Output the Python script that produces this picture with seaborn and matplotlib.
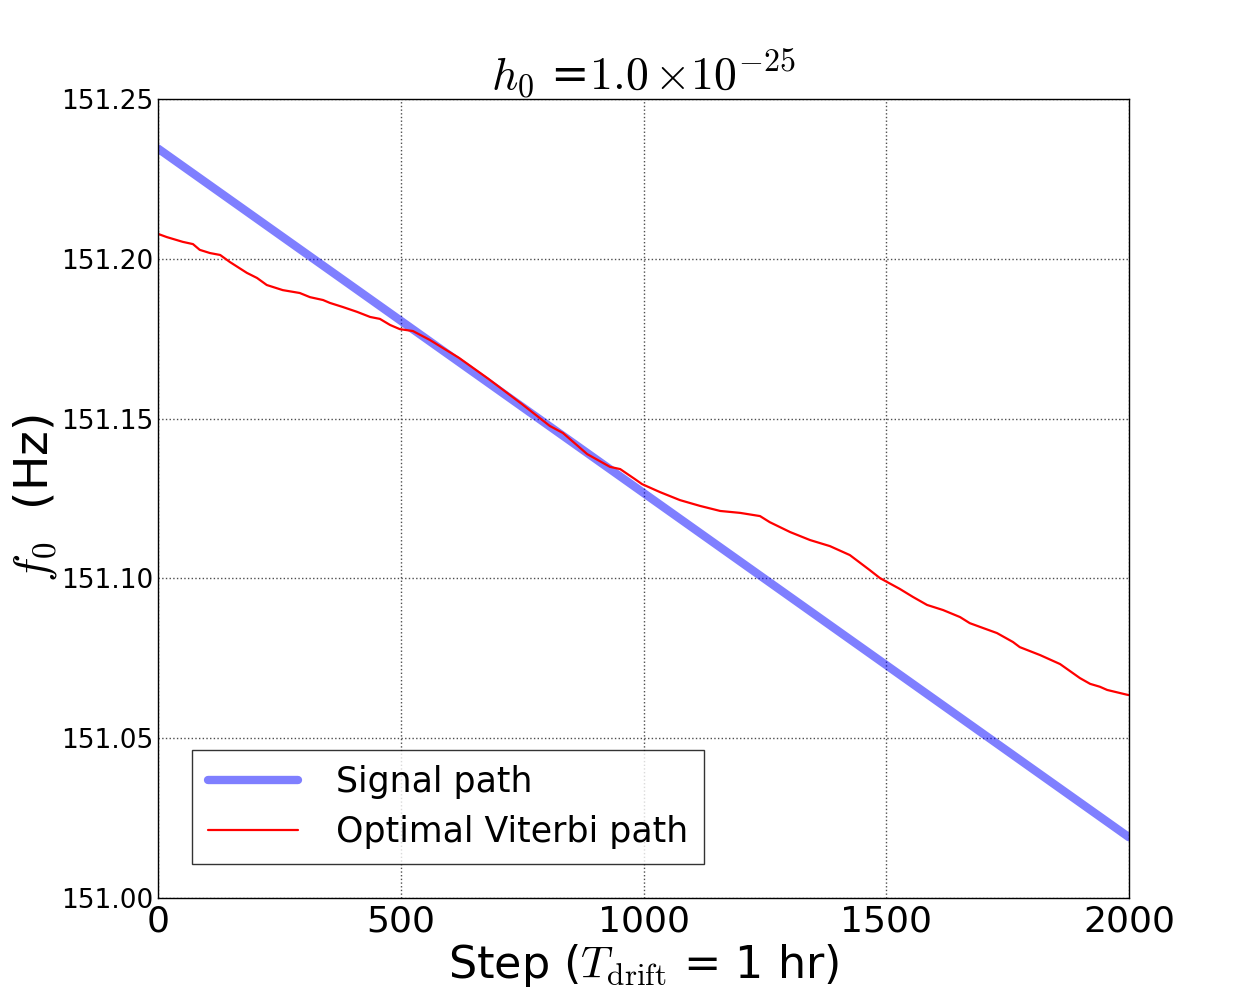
import numpy as np
import pandas as pd
import seaborn as sns
import matplotlib.pyplot as plt
from matplotlib.ticker import FormatStrFormatter

# signal path (straight line) end points
signal_step = [0, 2000]
signal_f0 = [151.2345, 151.0190]

# optimal Viterbi path
viterbi_step = [0, 18, 51, 72, 86, 107, 128, 148, 183, 204, 224, 257, 292, 313,
                340, 354, 381, 410, 437, 457, 478, 498, 525, 560, 620, 680, 750,
                807, 834, 884, 931, 952, 982, 997, 1034, 1075, 1116, 1158, 1199,
                1240, 1260, 1302, 1343, 1384, 1425, 1466, 1487, 1528, 1555, 1584,
                1617, 1652, 1672, 1699, 1728, 1761, 1775, 1817, 1858, 1899, 1920,
                1940, 1955, 1996, 2000]
viterbi_f0 = [151.2078, 151.2068, 151.2053, 151.2046, 151.2028, 151.2018,
              151.2012, 151.1990, 151.1956, 151.1940, 151.1918, 151.1902,
              151.1893, 151.1880, 151.1871, 151.1862, 151.1849, 151.1834,
              151.1818, 151.1812, 151.1793, 151.1780, 151.1774, 151.1746,
              151.1690, 151.1625, 151.1545, 151.1477, 151.1455, 151.1389,
              151.1349, 151.1342, 151.1311, 151.1295, 151.1270, 151.1245,
              151.1227, 151.1211, 151.1205, 151.1195, 151.1176, 151.1145,
              151.1120, 151.1101, 151.1073, 151.1026, 151.1001, 151.0967,
              151.0942, 151.0917, 151.0901, 151.0879, 151.0860, 151.0845,
              151.0829, 151.0801, 151.0785, 151.0760, 151.0732, 151.0688,
              151.0670, 151.0661, 151.0651, 151.0636, 151.0635]

sns.set_style("white", {"axes.grid": True, "grid.linestyle": ":",
                        "grid.color": "0.3", "axes.edgecolor": "black",
                        "xtick.direction": "in", "ytick.direction": "in",
                        "text.color": "black", "axes.labelcolor": "black",
                        "xtick.color": "black", "ytick.color": "black"})
plt.rcParams["font.family"] = ["DejaVu Sans"]
plt.rcParams["mathtext.fontset"] = "cm"

fig = plt.figure(figsize=(12.55, 9.99), dpi=100)
ax = fig.add_axes([0.1259, 0.1011, 0.7737, 0.7998])

sig = pd.DataFrame({"step": signal_step, "f0": signal_f0})
vit = pd.DataFrame({"step": viterbi_step, "f0": viterbi_f0})

sns.lineplot(data=sig, x="step", y="f0", ax=ax, color="blue", alpha=0.5,
             linewidth=6, label="Signal path")
sns.lineplot(data=vit, x="step", y="f0", ax=ax, color="red", linewidth=1.6,
             label="Optimal Viterbi path", sort=False)

ax.set_xlim(0, 2000)
ax.set_ylim(151.0, 151.25)
ax.set_xticks([0, 500, 1000, 1500, 2000])
ax.set_yticks([151.00, 151.05, 151.10, 151.15, 151.20, 151.25])
ax.yaxis.set_major_formatter(FormatStrFormatter("%.2f"))
ax.tick_params(axis="x", labelsize=26, pad=5)
ax.tick_params(axis="y", labelsize=19, pad=3)
for s in ax.spines.values():
    s.set_linewidth(1.0)
ax.grid(True, linestyle=":", color="0.3", linewidth=1)

ax.set_title(r"$h_0$ =$1.0\,{\times}10^{-25}$", fontsize=33, pad=7)
ax.set_xlabel(r"Step ($T_{\rm drift}$ = 1 hr)", fontsize=32, labelpad=2)
ax.set_ylabel(r"$f_0$  (Hz)", fontsize=34, labelpad=2)

leg = ax.legend(loc="lower left", bbox_to_anchor=(0.035, 0.042),
                borderaxespad=0, fontsize=25, frameon=True, fancybox=False,
                edgecolor="black", handlelength=2.6, handletextpad=1.1,
                borderpad=0.45, labelspacing=0.45)
leg.get_frame().set_linewidth(1.0)

plt.savefig("out.png", dpi=100, facecolor="white")
